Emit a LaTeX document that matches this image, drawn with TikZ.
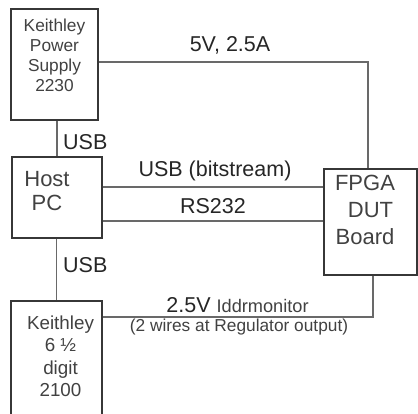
\documentclass[tikz,border=0pt]{standalone}
\usepackage{fontspec}
\setmainfont{Liberation Sans}
\usepackage{tikz}
\usetikzlibrary{positioning}
\definecolor{wiregray}{RGB}{105,105,105}
\definecolor{edgegray}{RGB}{55,55,55}
\definecolor{inkgray}{RGB}{65,65,65}

\begin{document}
\begin{tikzpicture}[
  x=1pt, y=-1pt,
  unit/.style={
    draw=edgegray,
    line width=1.1pt,
    align=center,
    inner sep=0pt,
    text=inkgray
  },
  small/.style={font=\fontsize{17.3}{20}\selectfont},
  big/.style={font=\fontsize{22}{24}\selectfont},
  link/.style={draw=wiregray,line width=1.2pt},
  tag/.style={font=\fontsize{21.5}{24}\selectfont,text=black!85,inner sep=0pt}
]
\useasboundingbox (0,0) rectangle (418,413);

% instruments and boards
\node[unit,small,minimum width=87pt,minimum height=111pt,text depth=18pt] (psu) at (54.5,64.5)
  {Keithley\\Power\\Supply\\2230};
\node[unit,big,minimum width=90pt,minimum height=81pt,text depth=14pt] (host) at (57,197.5)
  {Host\hspace*{20pt}\\PC\hspace*{20pt}};
\node[unit,big,font=\fontsize{22}{27}\selectfont,minimum width=93pt,minimum height=106pt,text depth=24.5pt] (dut) at (370.5,222)
  {FPGA\hspace*{11pt}\\DUT\hspace*{11pt}\\Board\hspace*{11pt}};
\node[unit,font=\fontsize{18.8}{22.5}\selectfont,minimum width=91pt,minimum height=124pt,text depth=14pt] (dmm) at (56.5,363)
  {\hspace*{8pt}Keithley\\\hspace*{8pt}6 ½\\\hspace*{8pt}digit\\\hspace*{8pt}2100};

% wires
\coordinate (tap) at (373,317);
\draw[link] ([yshift=2.5pt]psu.east) -| ([xshift=-2.5pt]dut.north);
\draw[link] (host.north |- psu.south) -- (host.north);
\draw[link] ([yshift=10.5pt]host.east) -- ([yshift=10.5pt]host.east -| dut.west);
\draw[link] ([yshift=-23.5pt]host.east) -- ([yshift=-23.5pt]host.east -| dut.west);
\draw[link] (host.south -| dmm.north) -- (dmm.north);
\draw[link] (dut.south -| tap) -- (tap) -- (tap -| dmm.east);

% labels
\node[tag] (pwr) at (230,45) {5V, 2.5A};
\node[tag,anchor=west] (usbtop) at (63,142) {USB};
\node[tag,anchor=west] (usbbot) at (63,265) {USB};
\node[tag] (bits) at (215,171) {USB (bitstream)};
\node[tag] (serial) at (213,206) {RS232};
\node[tag] (imon) at (237.5,305)
  {2.5V {\fontsize{18.2}{20}\selectfont\color{inkgray}Iddrmonitor}};
\node[tag,small,text=inkgray] (wires) at (239,327) {(2 wires at Regulator output)};
\end{tikzpicture}
\end{document}
